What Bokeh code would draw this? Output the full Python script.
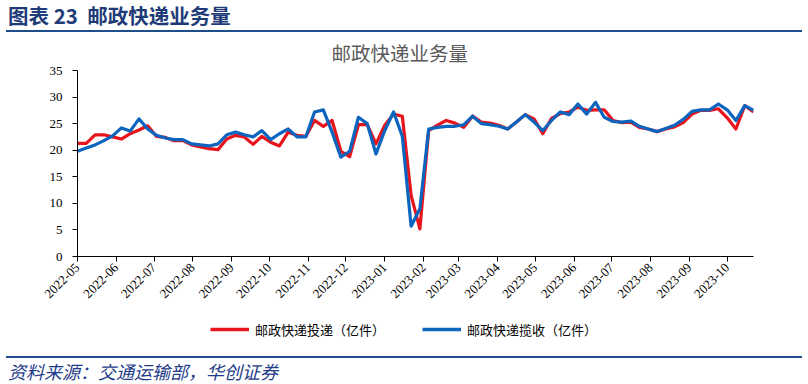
import math
import pandas as pd
from bokeh.plotting import figure
from bokeh.layouts import column
from bokeh.models import (Range1d, MonthsTicker, DatetimeTickFormatter, FixedTicker,
                          Legend, LegendItem, ColumnDataSource, Div)
from bokeh.embed import file_html
from bokeh.resources import INLINE

# ---------------- data ----------------
start_date = "2022-05-01"
n_weeks = 78
dates = pd.date_range(start_date, periods=n_weeks, freq="7D")

delivery = [21.3, 21.3, 22.9, 22.9, 22.5, 22.1, 23.1, 23.8, 24.6, 22.6,
            22.4, 21.8, 21.8, 21.0, 20.6, 20.3, 20.1, 22.1, 22.8, 22.5,
            21.1, 22.6, 21.5, 20.8, 23.4, 22.8, 22.6, 25.6, 24.5, 25.6,
            19.8, 18.8, 24.8, 24.8, 21.2, 24.7, 26.8, 26.4, 11.5, 5.2,
            23.7, 24.7, 25.6, 25.1, 24.3, 26.4, 25.3, 25.1, 24.7, 24.0,
            25.3, 26.7, 25.9, 23.1, 26.0, 26.9, 27.2, 28.1, 27.5, 27.6,
            27.6, 25.6, 25.2, 25.3, 24.3, 24.0, 23.5, 24.0, 24.4, 25.2,
            26.8, 27.5, 27.5, 27.8, 26.1, 24.0, 28.4, 27.2]

collection = [19.8, 20.4, 21.0, 21.8, 22.7, 24.2, 23.6, 25.9, 24.0, 22.8,
              22.3, 22.0, 22.0, 21.2, 21.0, 20.8, 21.2, 22.9, 23.4, 22.9,
              22.5, 23.7, 22.0, 23.1, 24.0, 22.5, 22.5, 27.2, 27.6, 23.4,
              18.7, 19.8, 26.2, 25.0, 19.3, 23.7, 27.2, 22.6, 5.7, 9.0,
              24.0, 24.3, 24.5, 24.5, 24.8, 26.4, 25.0, 24.8, 24.5, 24.0,
              25.3, 26.7, 25.3, 23.7, 25.6, 27.2, 26.7, 28.7, 26.8, 29.0,
              26.2, 25.4, 25.3, 25.5, 24.5, 24.0, 23.5, 24.1, 24.7, 25.8,
              27.3, 27.6, 27.6, 28.7, 27.6, 25.6, 28.4, 27.5]

series_names = ["邮政快递投递（亿件）", "邮政快递揽收（亿件）"]
y_ticks = [0, 5, 10, 15, 20, 25, 30, 35]
header_text = "图表 23&nbsp; 邮政快递业务量"
chart_title = "邮政快递业务量"
source_text = "资料来源：交通运输部，华创证券"

RED = "#E8141C"
BLUE = "#0B64BE"
NAVY = "#1F4E8C"

# ---------------- header ----------------
header = Div(text=(
    '<div style="width:796px;margin-left:6px;padding-left:2px;box-sizing:border-box;'
    'height:32px;border-bottom:2px solid %s;'
    'font-family:\'Noto Sans CJK SC\';font-weight:bold;font-size:20.5px;line-height:31px;'
    'color:#1F3C78;white-space:nowrap;">%s</div>') % (NAVY, header_text),
    width=808, height=32, margin=0)

# ---------------- chart ----------------
src = ColumnDataSource(dict(date=dates, delivery=delivery, collection=collection))

p = figure(width=808, height=274, x_axis_type="datetime",
           output_backend="svg", toolbar_location=None,
           x_range=Range1d(dates[0], dates[-1]), y_range=Range1d(0, 35),
           min_border_left=77, min_border_right=55,
           min_border_top=38, min_border_bottom=50,
           title=chart_title)
p.margin = 0
p.outline_line_color = None
p.xgrid.grid_line_color = None
p.ygrid.grid_line_color = None

p.title.align = "left"
p.title.offset = 254
p.title.standoff = 7
p.title.text_font = "Noto Sans CJK SC"
p.title.text_font_size = "19.5px"
p.title.text_font_style = "normal"
p.title.text_color = "#595959"

r1 = p.line("date", "delivery", source=src, line_color=RED, line_width=3.2, line_join="round")
r2 = p.line("date", "collection", source=src, line_color=BLUE, line_width=3.2, line_join="round")

p.xaxis.ticker = MonthsTicker(months=list(range(12)))
p.xaxis.formatter = DatetimeTickFormatter(months="%Y-%m", days="%Y-%m", years="%Y-%m")
p.xaxis.major_label_orientation = math.pi / 4
p.yaxis.ticker = FixedTicker(ticks=y_ticks)
for ax in (p.xaxis[0], p.yaxis[0]):
    ax.axis_line_color = "black"
    ax.axis_line_width = 1
    ax.major_tick_line_color = "black"
    ax.major_tick_in = 0
    ax.major_tick_out = 5
    ax.minor_tick_line_color = None
    ax.major_label_text_font = "Liberation Serif"
    ax.major_label_text_font_size = "13px"
    ax.major_label_text_color = "black"
p.yaxis.major_label_standoff = 10
p.xaxis.major_label_standoff = 4

# ---------------- legend strip ----------------
# the key renderers plot the same series, but outside this strip's visible range
lg = figure(width=808, height=49, output_backend="svg", toolbar_location=None,
            x_range=Range1d(0, 1), y_range=Range1d(0, 1),
            x_axis_location=None, y_axis_location=None,
            min_border_left=0, min_border_right=0, min_border_top=0, min_border_bottom=0)
lg.margin = 0
lg.outline_line_color = None
lg.xgrid.grid_line_color = None
lg.ygrid.grid_line_color = None
k1 = lg.line("date", "delivery", source=src, line_color=RED, line_width=3.6)
k2 = lg.line("date", "collection", source=src, line_color=BLUE, line_width=3.6)
legend = Legend(items=[LegendItem(label=series_names[0], renderers=[k1]),
                       LegendItem(label=series_names[1], renderers=[k2])],
                location=(133, 16), orientation="horizontal",
                glyph_width=39, glyph_height=20, label_height=20,
                label_standoff=6, spacing=37, padding=0, margin=0,
                border_line_color=None, background_fill_alpha=0,
                label_text_font="Noto Sans CJK SC", label_text_font_size="13px",
                label_text_color="black")
lg.add_layout(legend)

# ---------------- source ----------------
source = Div(text=(
    '<div style="width:796px;margin-left:6px;padding-left:2px;box-sizing:border-box;'
    'margin-top:1px;border-top:2px solid %s;'
    'font-family:\'Noto Sans CJK SC\';font-style:italic;font-size:18px;line-height:26px;'
    'color:#1F3C88;white-space:nowrap;">%s</div>') % (NAVY, source_text),
    width=808, height=29, margin=0)

layout = column(header, p, lg, source, spacing=0)
open("out.html", "w").write(file_html(layout, INLINE))
